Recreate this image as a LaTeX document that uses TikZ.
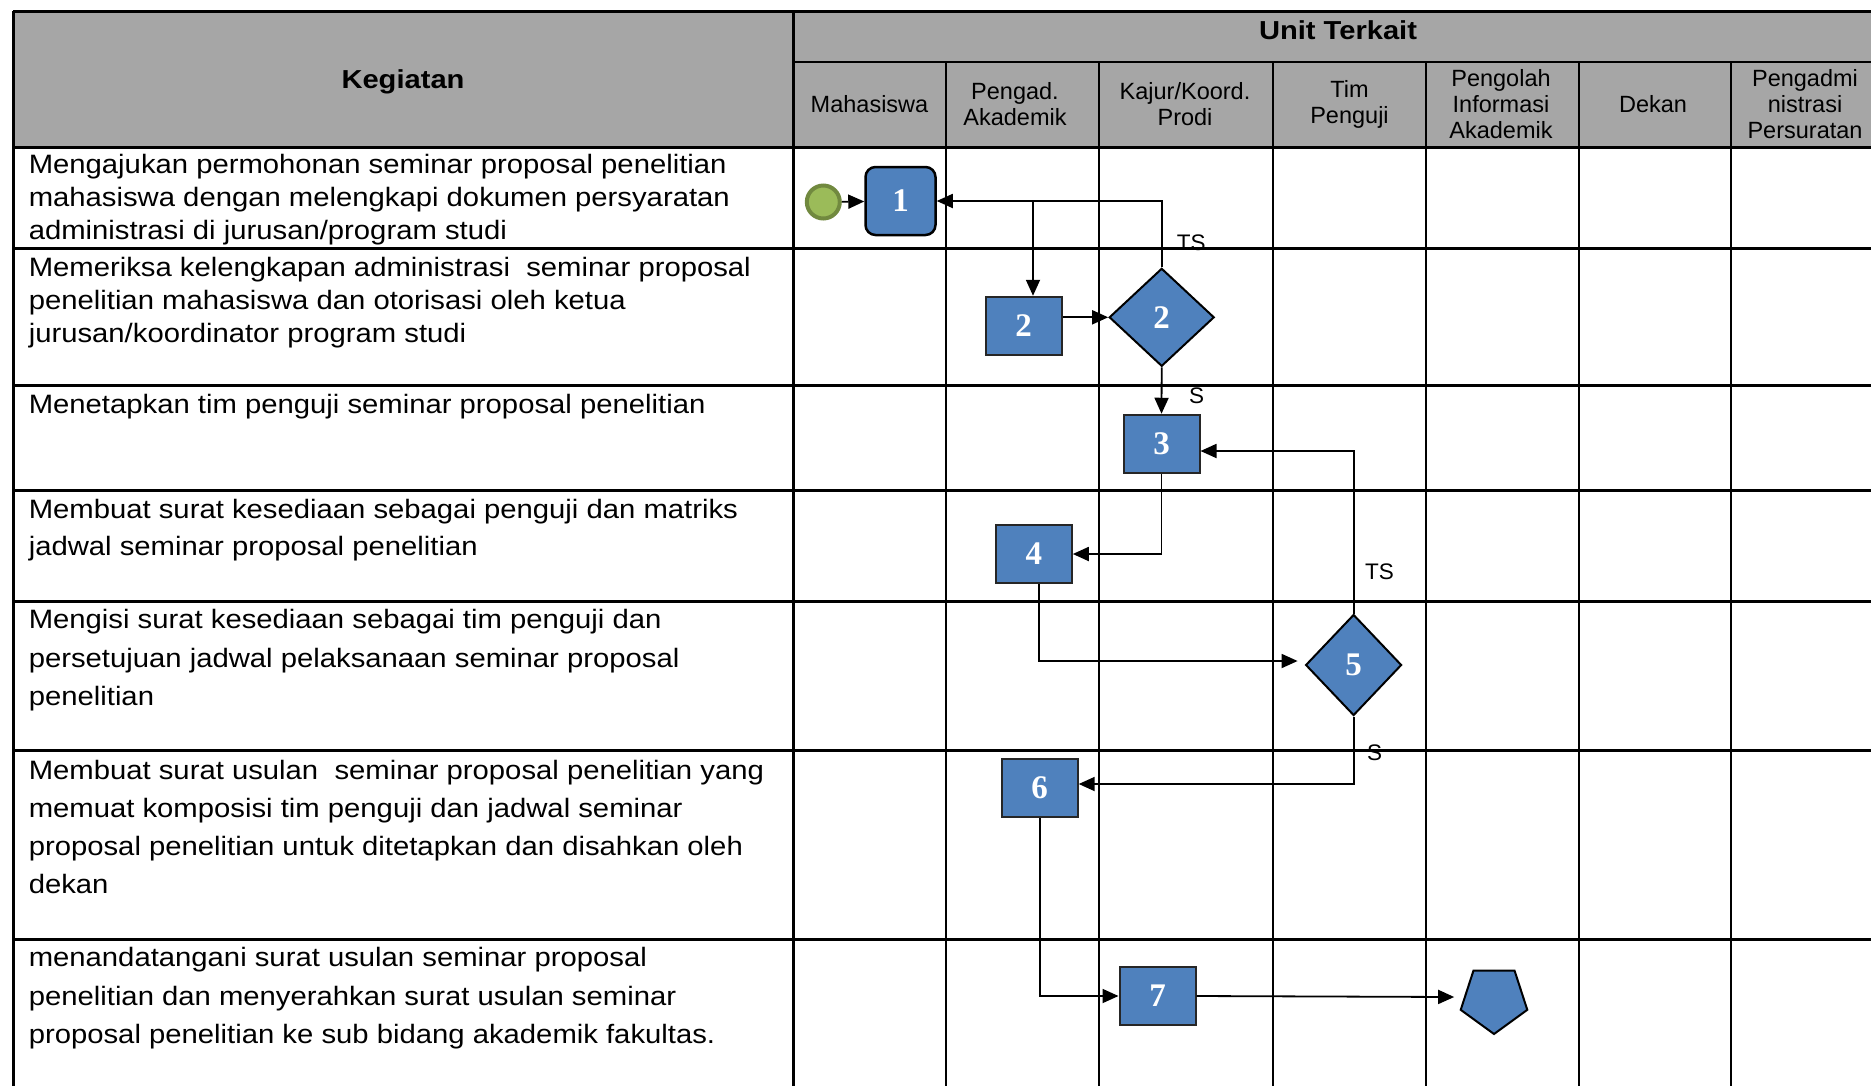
\documentclass[tikz,border=0pt]{standalone}
\usepackage{fontspec}
\setmainfont{Liberation Sans}
\newfontfamily\rowfont[FakeStretch=1.1]{Liberation Sans}
\newfontfamily\titlefont[FakeStretch=1.12]{Liberation Sans}
\newfontfamily\numfont{Liberation Serif}
\usetikzlibrary{arrows.meta,shapes.geometric,calc}
\definecolor{hdrgray}{HTML}{A6A6A6}
\definecolor{boxblue}{HTML}{4F81BD}
\definecolor{boxedge}{HTML}{262626}
\definecolor{startfill}{HTML}{9BBB59}
\definecolor{startedge}{HTML}{71893F}
\begin{document}
\begin{tikzpicture}[x=1pt,y=-1pt,
  gridline/.style={line width=2.2pt, black},
  outerline/.style={line width=3pt, black},
  rowtext/.style={anchor=north west, inner sep=0pt, align=left, font=\rowfont\fontsize{26.6}{#1}\selectfont},
  colhead/.style={align=center, inner sep=0pt, font=\fontsize{23.5}{26}\selectfont},
  titletext/.style={anchor=base, inner sep=0pt, font=\titlefont\bfseries\fontsize{26}{30}\selectfont},
  procbox/.style={rectangle, fill=boxblue, draw=boxedge, line width=2pt, minimum width=76pt, minimum height=58.5pt, inner sep=0pt, text=white, font=\numfont\bfseries\fontsize{33}{33}\selectfont},
  decision/.style={diamond, fill=boxblue, draw=black, line width=2pt, inner sep=0pt, text=white, font=\numfont\bfseries\fontsize{33}{33}\selectfont},
  flow/.style={line width=1.8pt, -{Triangle[length=16pt,width=14pt]}},
  lbl/.style={anchor=base west, inner sep=0pt, font=\fontsize{22.5}{27}\selectfont}
]
\useasboundingbox (0,0) rectangle (1871,1085);
\clip (0,0) rectangle (1871,1085);
% header background
\fill[hdrgray] (13,11) rectangle (1875,147);
% grid
\foreach \yy in {248.5,385.5,490.5,601.5,750.5,939.5}
  \draw[gridline] (13,\yy) -- (1875,\yy);
\draw[gridline] (793,62) -- (1875,62);
\foreach \xx in {946,1099,1273,1426,1579,1731}
  \draw[gridline] (\xx,62) -- (\xx,1090);
\draw[outerline] (793,11) -- (793,1090);
\draw[outerline] (13,147) -- (1875,147);
\draw[outerline] (13,11) -- (1875,11);
\draw[outerline] (13,11) -- (13,1090);

% header texts
\node[titletext] (kegiatan) at (403,88) {Kegiatan};
\node[titletext] (unit) at (1338,39.5) {Unit Terkait};
\node[colhead] (hMhs) at (869.5,104.5) {Mahasiswa};
\node[colhead] (hPA) at (1015,104.5) {Pengad.\\Akademik};
\node[colhead] (hKP) at (1185,104.5) {Kajur/Koord.\\Prodi};
\node[colhead] (hTP) at (1349.5,104.5) {Tim\\Penguji};
\node[colhead] (hPIA) at (1501,104.5) {Pengolah\\Informasi\\Akademik};
\node[colhead] (hDk) at (1653,104.5) {Dekan};
\node[colhead] (hPP) at (1805,104.5) {Pengadmi\\nistrasi\\Persuratan};

% row texts
\node[rowtext=33] (r1) at (28.6,154.5) {Mengajukan permohonan seminar proposal penelitian\\mahasiswa dengan melengkapi dokumen persyaratan\\administrasi di jurusan/program studi};
\node[rowtext=33] (r2) at (28.6,257) {Memeriksa kelengkapan administrasi\ \ seminar proposal\\penelitian mahasiswa dan otorisasi oleh ketua\\jurusan/koordinator program studi};
\node[rowtext=33] (r3) at (28.6,394) {Menetapkan tim penguji seminar proposal penelitian};
\node[rowtext=37] (r4) at (28.6,499) {Membuat surat kesediaan sebagai penguji dan matriks\\jadwal seminar proposal penelitian};
\node[rowtext=38.5] (r5) at (28.6,609.5) {Mengisi surat kesediaan sebagai tim penguji dan\\persetujuan jadwal pelaksanaan seminar proposal\\penelitian};
\node[rowtext=38] (r6) at (28.6,760.5) {Membuat surat usulan\ \ seminar proposal penelitian yang\\memuat komposisi tim penguji dan jadwal seminar\\proposal penelitian untuk ditetapkan dan disahkan oleh\\dekan};
\node[rowtext=38.5] (r7) at (28.6,947.5) {menandatangani surat usulan seminar proposal\\penelitian dan menyerahkan surat usulan seminar\\proposal penelitian ke sub bidang akademik fakultas.};

% flow shapes
\node[circle, fill=startfill, draw=startedge, line width=4pt, minimum size=33pt, inner sep=0pt] (start) at (823.3,202) {};
\node[procbox, rounded corners=10pt, draw=black, line width=2.5pt, minimum width=70pt, minimum height=68pt] (p1) at (900.5,201) {1};
\node[procbox] (p2) at (1023.5,326) {2};
\node[decision, minimum width=105pt, minimum height=98pt] (d2) at (1161.7,317.3) {2};
\node[procbox] (p3) at (1161.5,444) {3};
\node[procbox] (p4) at (1033.8,554) {4};
\node[decision, minimum width=96pt, minimum height=101pt] (d5) at (1353.6,665) {5};
\node[procbox] (p6) at (1039.7,788) {6};
\node[procbox] (p7) at (1157.5,996) {7};
\node[regular polygon, regular polygon sides=5, shape border rotate=180, fill=boxblue, draw=black, line width=2pt, minimum size=70pt, inner sep=0pt] (off) at (1494,999) {};

% connectors
\coordinate (j1) at (1033,201);
\draw[flow] (start) -- (p1);
\draw[flow] (d2.north) |- (p1.east);
\draw[flow] (j1) -- (j1 |- p2.north);
\draw[flow] (p2.east |- d2.west) -- (d2.west);
\draw[flow] (d2.south) -- (p3.north);
\draw[flow] (p3.south) |- (p4.east);
\draw[flow] (d5.north) |- ([yshift=-7pt]p3.east);
\draw[flow] ([xshift=5pt]p4.south) |- ([xshift=-7pt,yshift=4pt]d5.west);
\draw[flow] (d5.south) |- ([yshift=4pt]p6.east);
\draw[flow] (p6.south) |- (p7.west);
\draw[flow] (p7.east) -- ([xshift=-9pt,yshift=2pt]off.west);

% branch labels
\node[lbl] (ts1) at (1176.7,250) {TS};
\node[lbl] (s1) at (1189,403) {S};
\node[lbl] (ts2) at (1364.8,579.3) {TS};
\node[lbl] (s2) at (1367,760.7) {S};
\end{tikzpicture}
\end{document}
